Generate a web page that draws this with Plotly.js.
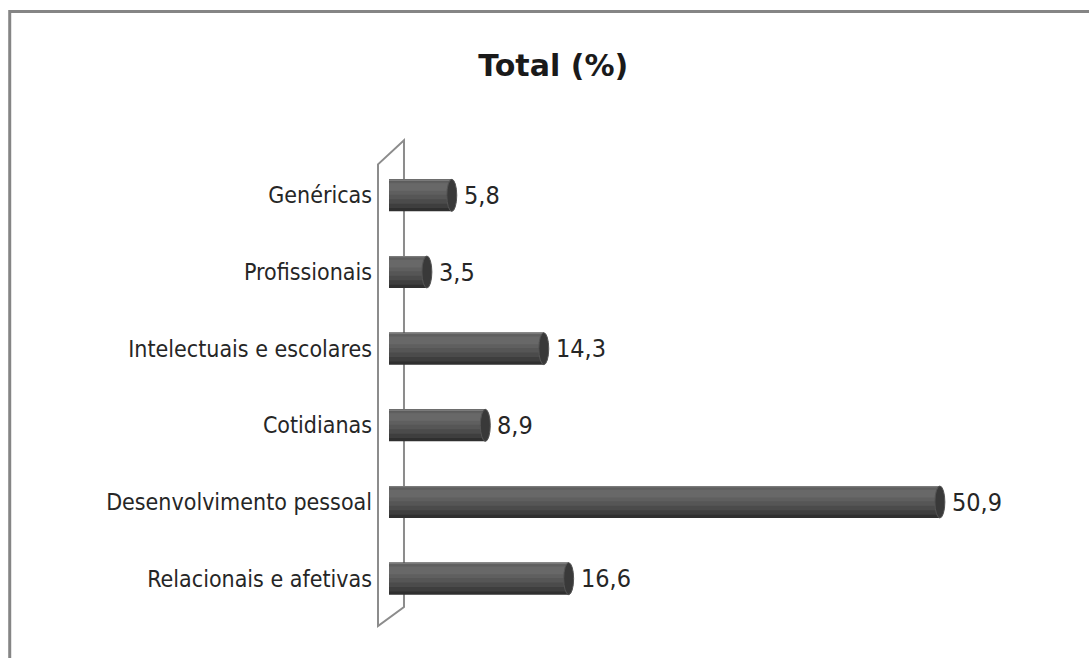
<!DOCTYPE html>
<html>
<head>
<meta charset="utf-8">
<script src="https://cdn.plot.ly/plotly-3.0.1.min.js"></script>
<style>
  html, body { margin: 0; padding: 0; background: #fff; }
  #chart { width: 1089px; height: 658px; }
</style>
</head>
<body>
<div id="chart"></div>
<script>
const categories = ['Genéricas', 'Profissionais', 'Intelectuais e escolares', 'Cotidianas', 'Desenvolvimento pessoal', 'Relacionais e afetivas'];
const values = [5.8, 3.5, 14.3, 8.9, 50.9, 16.6];
const valueLabels = ['5,8', '3,5', '14,3', '8,9', '50,9', '16,6'];
const chartTitle = 'Total (%)';

const W = 0.417; // bar thickness (fraction of a category slot)
// shading bands to mimic a cylinder: [fromTop, toTop, colour]
const bands = [
  [0.00, 1.00, '#2f2f2f'],
  [0.00, 0.90, '#3e3e3e'],
  [0.00, 0.76, '#4b4b4b'],
  [0.02, 0.62, '#565656'],
  [0.06, 0.48, '#5f5f5f'],
  [0.12, 0.36, '#686868'],
  [0.00, 0.05, '#7a7a7a']
];

const traces = bands.map(b => ({
  type: 'bar',
  orientation: 'h',
  y: categories,
  x: values,
  width: (b[1] - b[0]) * W,
  offset: -W / 2 + b[0] * W,
  marker: { color: b[2], line: { width: 0 } },
  hoverinfo: 'skip',
  showlegend: false
}));

const capHalf = 0.46;
const shapes = [];
// cylinder end caps
values.forEach((v, i) => {
  shapes.push({
    type: 'circle', xref: 'x', yref: 'y',
    x0: v - capHalf, x1: v + capHalf,
    y0: i - W / 2, y1: i + W / 2,
    fillcolor: '#393939', line: { width: 1, color: '#555' }, layer: 'above'
  });
});
// the 3D "wall" at the left
shapes.push({
  type: 'path', xref: 'paper', yref: 'paper',
  path: 'M 0 -0.0195 L 0 0.984 L 0.0381 1.0365 L 0.0381 0.0217 Z',
  line: { color: '#8c8c8c', width: 2 }, fillcolor: 'rgba(0,0,0,0)', layer: 'below'
});
// outer frame (extends past the right and bottom of the picture)
shapes.push({
  type: 'rect', xref: 'paper', yref: 'paper',
  x0: -0.5400, x1: 1.2, y0: -0.5, y1: 1.3165,
  line: { color: '#858585', width: 3 }, fillcolor: 'rgba(0,0,0,0)', layer: 'below'
});

const labelFont = '"Liberation Sans Narrow", "DejaVu Sans Condensed", sans-serif';

const annotations = values.map((v, i) => ({
  x: v, y: categories[i], xref: 'x', yref: 'y',
  text: valueLabels[i], showarrow: false,
  xanchor: 'left', yanchor: 'middle', xshift: 10,
  font: { family: labelFont, size: 25, color: '#262626' }
}));

const layout = {
  width: 1089, height: 658,
  margin: { l: 378, r: 29, t: 157, b: 41, pad: 0 },
  paper_bgcolor: '#ffffff', plot_bgcolor: 'rgba(0,0,0,0)',
  barmode: 'overlay',
  showlegend: false,
  title: {
    text: '<b>' + chartTitle + '</b>',
    xref: 'container', yref: 'container',
    x: 0.508, y: 0.9, xanchor: 'center', yanchor: 'middle',
    font: { family: '"DejaVu Sans", sans-serif', size: 30, color: '#1a1a1a' }
  },
  xaxis: {
    range: [-1.017, 62.0],
    showgrid: false, zeroline: false, showline: false,
    showticklabels: false, ticks: ''
  },
  yaxis: {
    type: 'category',
    range: [5.5, -0.5],
    showgrid: false, zeroline: false, showline: false,
    ticks: '', ticklabelstandoff: 5,
    tickfont: { family: labelFont, size: 23, color: '#262626' }
  },
  shapes: shapes,
  annotations: annotations
};

Plotly.newPlot('chart', traces, layout, { staticPlot: true, displayModeBar: false });
</script>
</body>
</html>
